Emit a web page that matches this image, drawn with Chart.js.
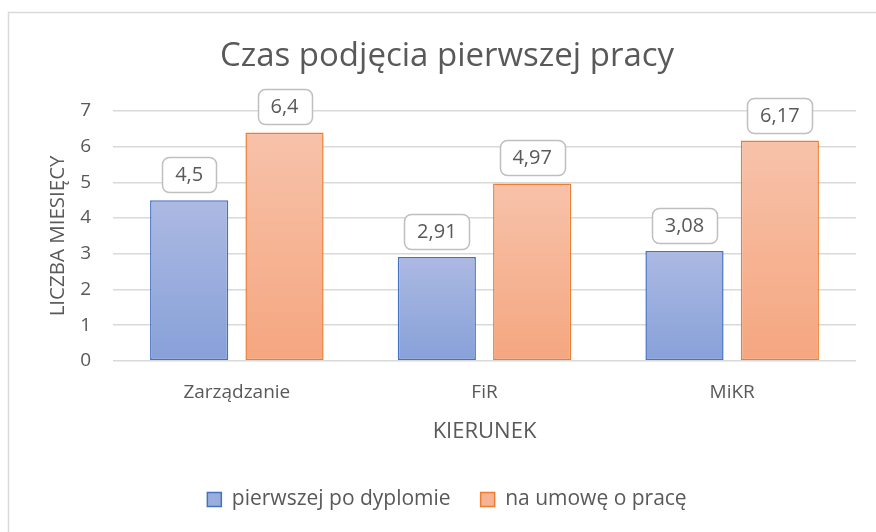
<!DOCTYPE html>
<html>
<head>
<meta charset="utf-8">
<script src="https://cdn.jsdelivr.net/npm/chart.js@4/dist/chart.umd.min.js"></script>
<style>
  html, body { margin: 0; padding: 0; background: #ffffff; }
  #wrap { position: relative; width: 876px; height: 532px; }
  canvas { display: block; }
</style>
</head>
<body>
<div id="wrap"><canvas id="c" width="876" height="532"></canvas></div>
<script>
const categories = ['Zarządzanie', 'FiR', 'MiKR'];
const seriesNames = ['pierwszej po dyplomie', 'na umowę o pracę'];
const firstJob = [4.5, 2.91, 3.08];
const contractJob = [6.4, 4.97, 6.17];
const yTicks = [0, 1, 2, 3, 4, 5, 6, 7];

const FONT = '"Open Sans", Lato, "DejaVu Sans", sans-serif';
const TEXT = '#595959';

const palette = [
  { top: '#acb9e2', bottom: '#87a1d9', border: '#4472c4', legend: '#9aaedd' },
  { top: '#f7c2aa', bottom: '#f5a67f', border: '#ed7d31', legend: '#f6b393' }
];

function gradientFor(idx) {
  return function (ctx) {
    const chart = ctx.chart;
    if (!chart.chartArea || ctx.type !== 'data') return palette[idx].legend;
    const y = chart.scales.y;
    const top = y.getPixelForValue(ctx.raw);
    const bottom = y.getPixelForValue(0);
    const g = chart.ctx.createLinearGradient(0, top, 0, bottom);
    g.addColorStop(0, palette[idx].top);
    g.addColorStop(1, palette[idx].bottom);
    return g;
  };
}

const frame = {
  id: 'frame',
  beforeDraw(chart) {
    const c = chart.ctx;
    c.save();
    c.fillStyle = '#ffffff';
    c.fillRect(0, 0, chart.width, chart.height);
    c.strokeStyle = '#d9d9d9';
    c.lineWidth = 1.5;
    c.beginPath();
    c.moveTo(8.5, chart.height + 5);
    c.lineTo(8.5, 12.5);
    c.lineTo(chart.width + 5, 12.5);
    c.stroke();
    c.restore();
  }
};

const dataLabels = {
  id: 'dataLabels',
  afterDatasetsDraw(chart) {
    const c = chart.ctx;
    c.save();
    c.font = '20px ' + FONT;
    c.textAlign = 'center';
    c.textBaseline = 'middle';
    chart.data.datasets.forEach((ds, di) => {
      const meta = chart.getDatasetMeta(di);
      meta.data.forEach((bar, i) => {
        const txt = String(ds.data[i]).replace('.', ',');
        const w = Math.round(c.measureText(txt).width + 26);
        const h = 35;
        const x = Math.round(bar.x - w / 2);
        const y = Math.round(bar.y - 8 - h);
        c.beginPath();
        c.roundRect(x + 0.5, y + 0.5, w, h, 7);
        c.fillStyle = '#ffffff';
        c.fill();
        c.strokeStyle = '#bfbfbf';
        c.lineWidth = 1.5;
        c.stroke();
        c.fillStyle = TEXT;
        c.fillText(txt, bar.x, y + h / 2 + 1);
      });
    });
    c.restore();
  }
};

new Chart(document.getElementById('c'), {
  type: 'bar',
  data: {
    labels: categories,
    datasets: [
      { label: seriesNames[0], data: firstJob, backgroundColor: gradientFor(0), borderColor: palette[0].border, borderWidth: 1.5, borderSkipped: false },
      { label: seriesNames[1], data: contractJob, backgroundColor: gradientFor(1), borderColor: palette[1].border, borderWidth: 1.5, borderSkipped: false }
    ]
  },
  options: {
    responsive: false,
    animation: false,
    devicePixelRatio: 1,
    categoryPercentage: 0.77,
    barPercentage: 0.82,
    layout: { padding: { left: 38, right: 20, top: 0, bottom: 12 } },
    plugins: {
      title: {
        display: true,
        text: 'Czas podjęcia pierwszej pracy',
        color: TEXT,
        font: { family: FONT, size: 33, weight: 'normal' },
        padding: { top: 37, bottom: 34.4 }
      },
      legend: {
        position: 'bottom',
        labels: {
          color: TEXT,
          font: { family: FONT, size: 21 },
          boxWidth: 14,
          boxHeight: 14,
          padding: 30,
          generateLabels(chart) {
            return chart.data.datasets.map((ds, i) => ({
              text: ds.label,
              fillStyle: palette[i].legend,
              strokeStyle: palette[i].border,
              lineWidth: 1.5,
              datasetIndex: i,
              fontColor: TEXT
            }));
          }
        }
      },
      tooltip: { enabled: false }
    },
    scales: {
      x: {
        grid: { display: false },
        border: { display: false },
        ticks: { color: TEXT, font: { family: FONT, size: 19 }, padding: 12 },
        title: { display: true, text: 'KIERUNEK', color: TEXT, font: { family: FONT, size: 22 }, padding: { top: 3, bottom: 14 } }
      },
      y: {
        min: 0,
        max: 7,
        afterBuildTicks(scale) { scale.ticks = yTicks.map(v => ({ value: v })); },
        afterFit(scale) { scale.width = 75; },
        grid: { color: '#d9d9d9', lineWidth: 1.5, drawTicks: false },
        border: { display: false },
        ticks: { color: TEXT, font: { family: FONT, size: 19 }, padding: 22 },
        title: { display: true, text: 'LICZBA MIESIĘCY', color: TEXT, font: { family: FONT, size: 20.5 }, padding: { top: 8, bottom: 8 } }
      }
    }
  },
  plugins: [frame, dataLabels]
});
</script>
</body>
</html>
